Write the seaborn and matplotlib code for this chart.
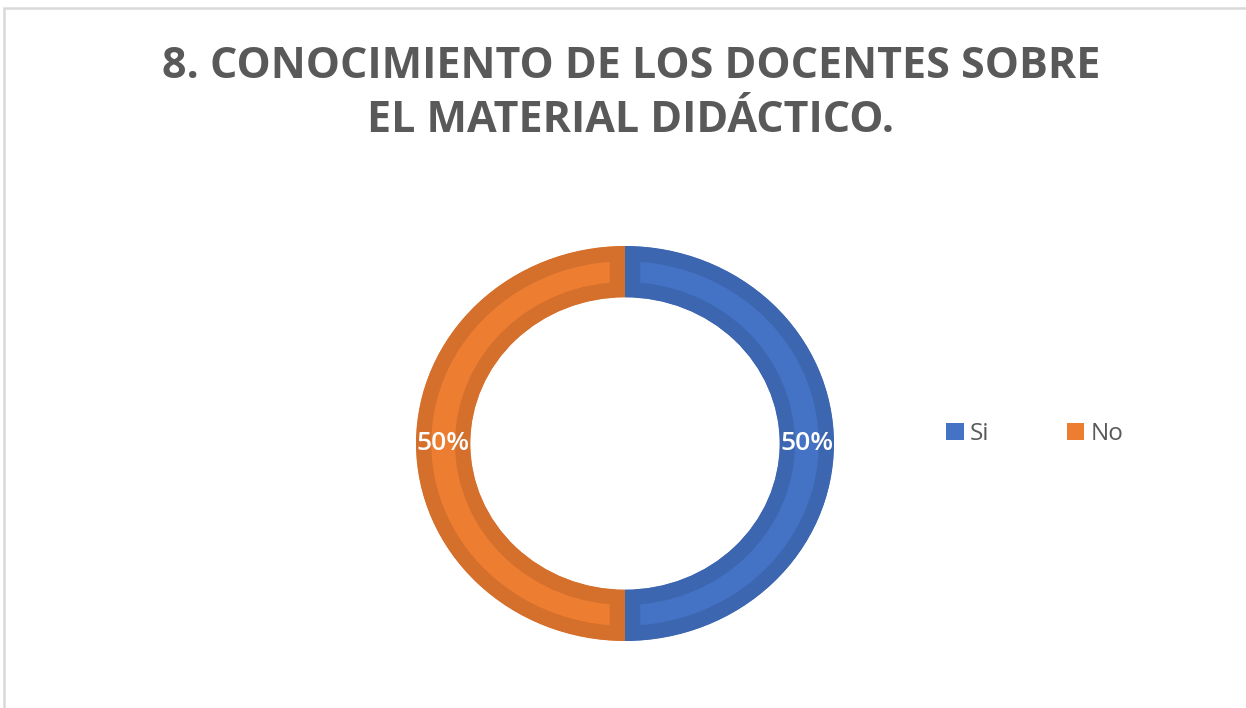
import matplotlib
matplotlib.use("Agg")
import matplotlib.pyplot as plt
import seaborn as sns
from matplotlib.patches import Patch, Rectangle

categories = ["Si", "No"]
values = [50, 50]
light_colors = ["#4472C4", "#ED7D31"]
dark_colors = ["#3D66B0", "#D46F2C"]
title_lines = ["8. CONOCIMIENTO DE LOS DOCENTES SOBRE", "EL MATERIAL DIDÁCTICO."]

sns.set_theme(style="white")
plt.rcParams["font.family"] = ["Open Sans", "DejaVu Sans"]

W, H = 1246, 708
fig = plt.figure(figsize=(W / 100, H / 100), dpi=100)
fig.patch.set_facecolor("white")

# chart frame (light gray border visible on top and left)
fig.patches.append(Rectangle((3.5 / W, -0.05), 1.2, 1 - 8 / H + 0.05,
                             transform=fig.transFigure, fill=False,
                             edgecolor="#D9D9D9", linewidth=1.8))

# donut axes box in pixel coordinates
left, right, top, bottom = 416, 834, 246, 641
ax = fig.add_axes([left / W, 1 - bottom / H, (right - left) / W, (bottom - top) / H])
ring = 0.26
wedges, texts, autotexts = ax.pie(
    values, colors=light_colors, startangle=90, counterclock=False,
    radius=1, wedgeprops=dict(width=ring, linewidth=0),
    autopct="%.0f%%", pctdistance=1 - ring / 2,
    textprops=dict(color="white", fontsize=19, fontweight="semibold"))
for w, dc in zip(wedges, dark_colors):
    w.set_edgecolor(dc)
    w.set_linewidth(22)
    w.set_joinstyle("miter")
    w.set_clip_on(True)
    w.set_clip_path(w)
ax.set_aspect("auto")
ax.set_xlim(-1, 1)
ax.set_ylim(-1, 1)
ax.axis("off")

# title
fig.text(631 / W, 1 - 78 / H, title_lines[0], ha="center", va="baseline",
         fontsize=31, fontweight="bold", color="#595959")
fig.text(631 / W, 1 - 132 / H, title_lines[1], ha="center", va="baseline",
         fontsize=31, fontweight="bold", color="#595959")

# legend
handles = [Patch(facecolor=c, edgecolor="none") for c in light_colors]
fig.legend(handles, categories, loc="center left",
           bbox_to_anchor=(946 / W, 1 - 434 / H), ncol=2, frameon=False,
           fontsize=17.5, labelcolor="#595959", handlelength=0.72,
           handleheight=0.7, handletextpad=0.25, columnspacing=3.2,
           borderpad=0, borderaxespad=0)

fig.savefig("out.png", dpi=100, facecolor="white")
